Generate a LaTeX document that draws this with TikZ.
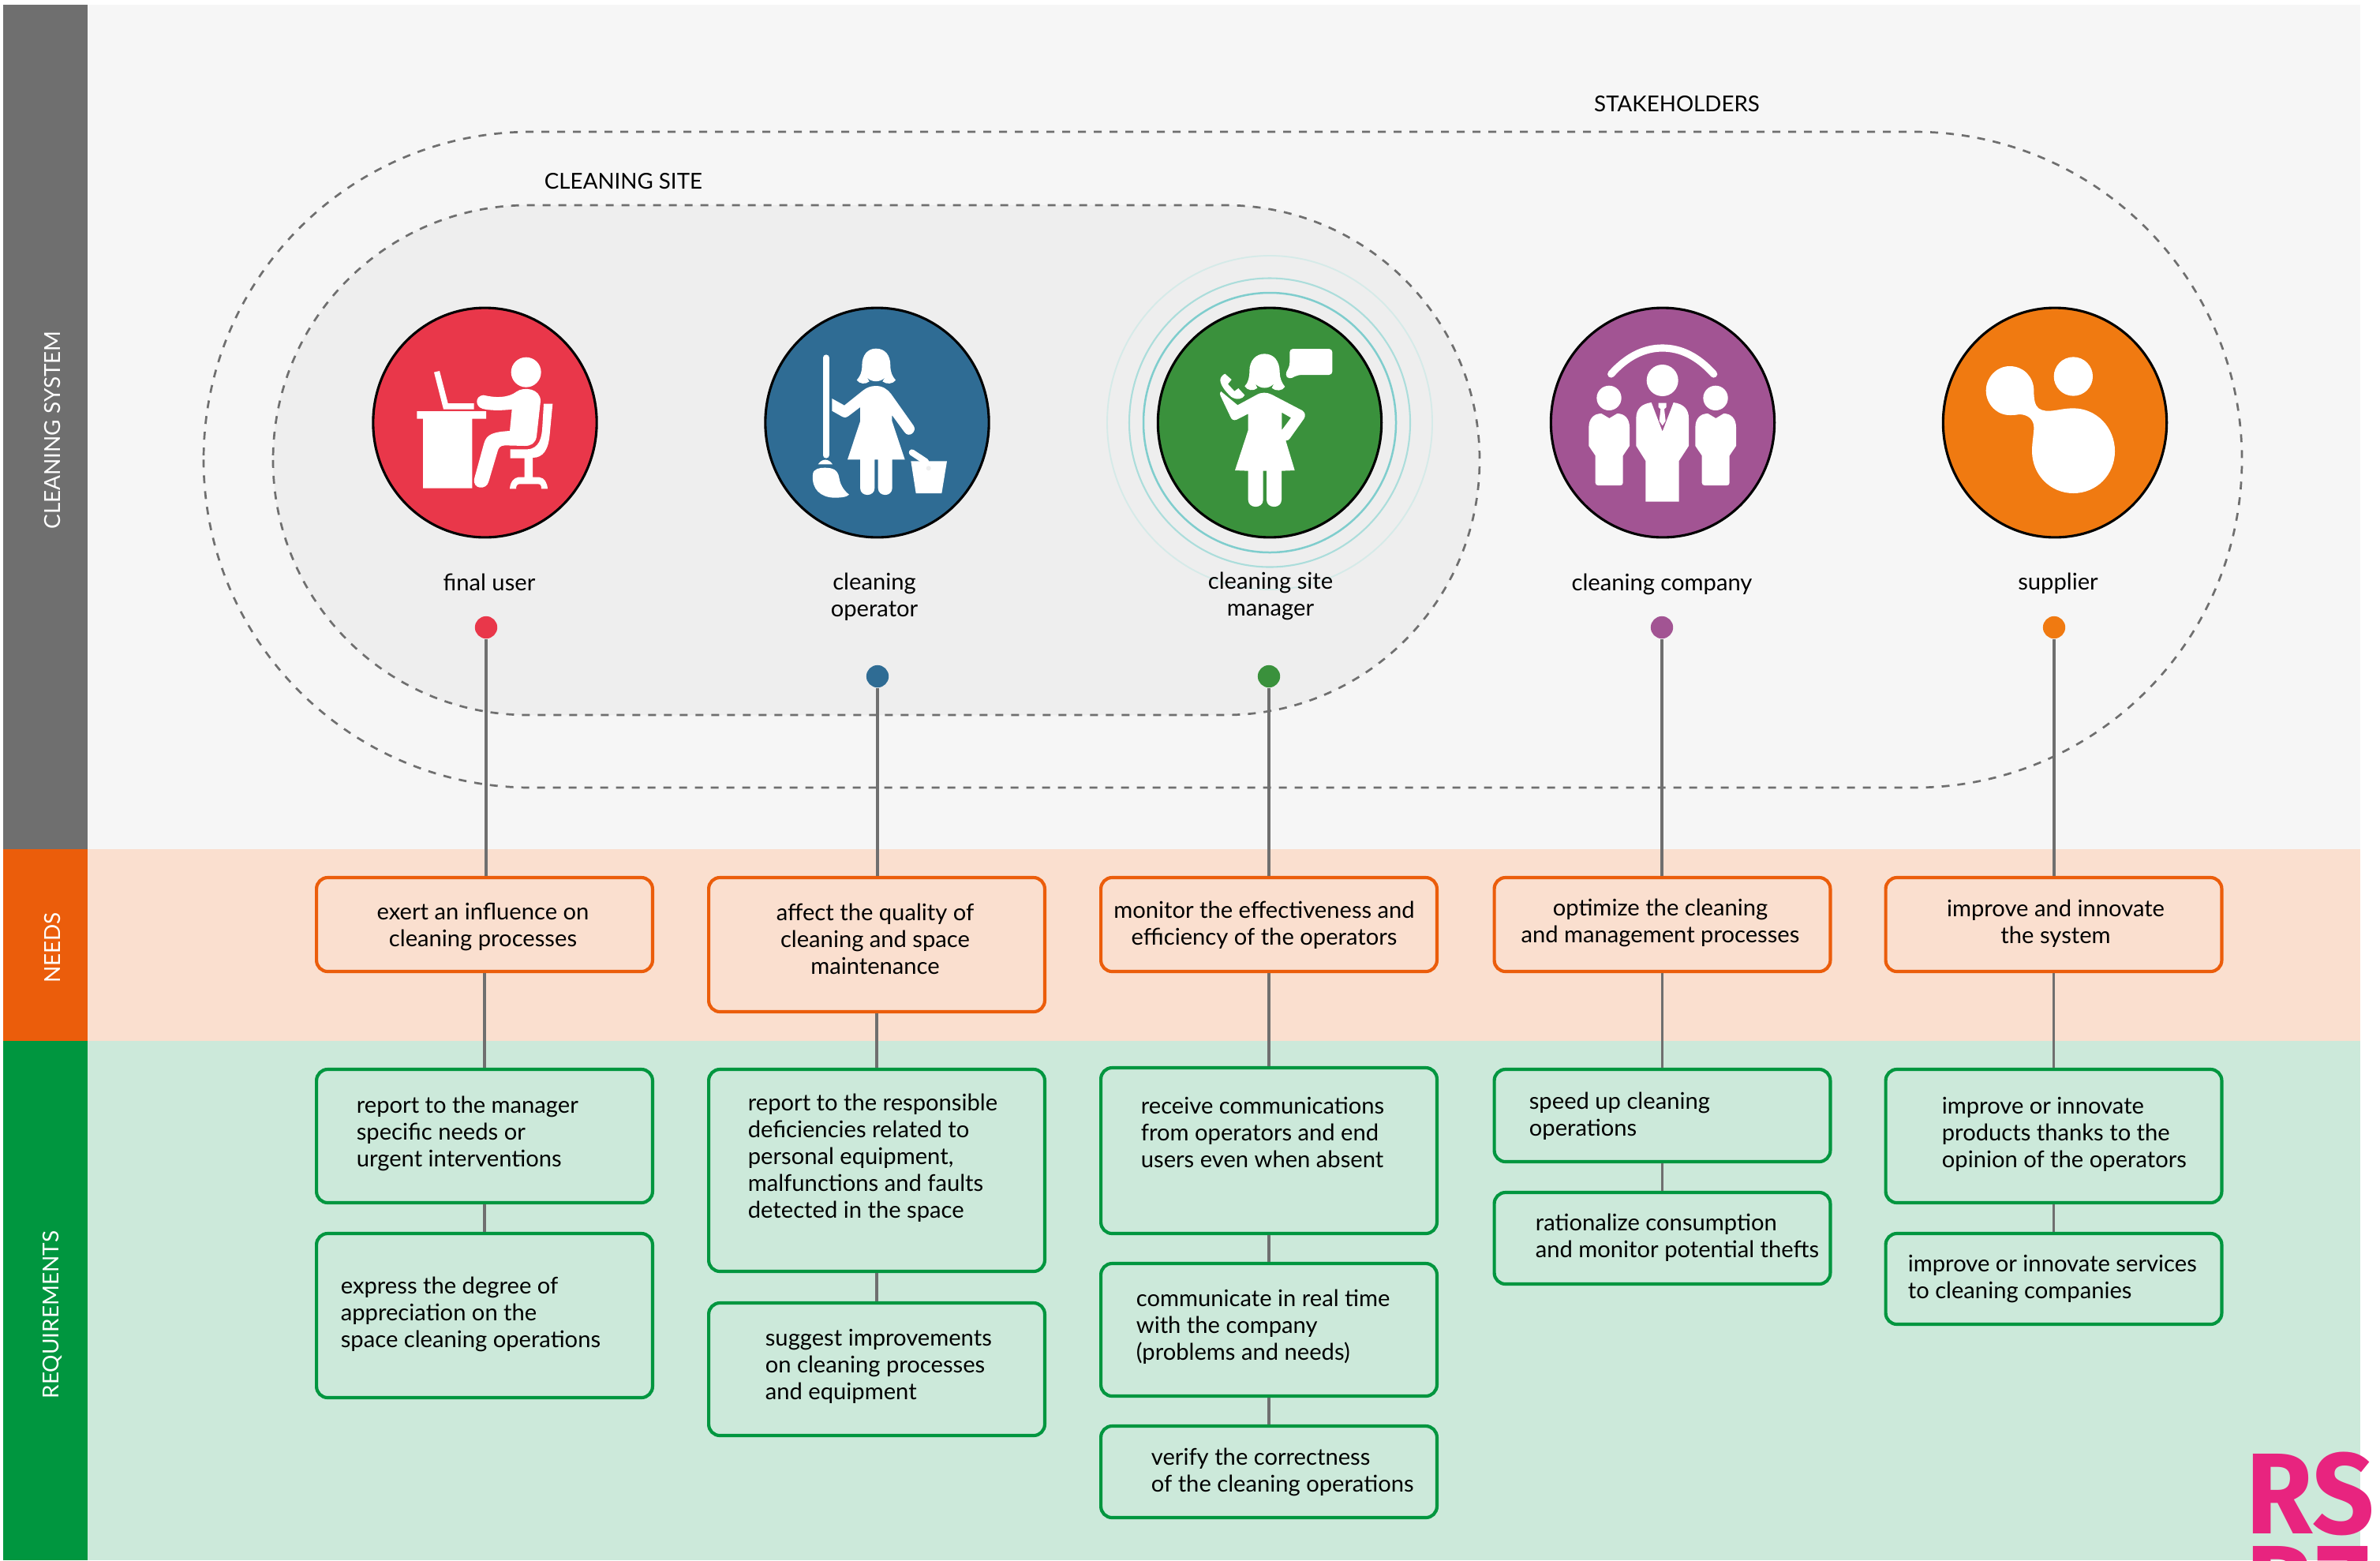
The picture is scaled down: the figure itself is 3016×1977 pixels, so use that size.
\documentclass[tikz,border=0pt]{standalone}
\usepackage{fontspec}
\setmainfont{Lato}
\newfontfamily\logofont{Fira Sans}
\usetikzlibrary{positioning, shapes.geometric}
\definecolor{barGrey}{HTML}{6F6F6F}
\definecolor{barOrange}{HTML}{EB5D0B}
\definecolor{barGreen}{HTML}{00963F}
\definecolor{panelGrey}{HTML}{F6F6F6}
\definecolor{panelOrange}{HTML}{FADFCF}
\definecolor{panelGreen}{HTML}{CCE9DA}
\definecolor{siteGrey}{HTML}{EEEEEE}
\definecolor{userRed}{HTML}{E9374A}
\definecolor{operBlue}{HTML}{2F6C94}
\definecolor{manGreen}{HTML}{3A913C}
\definecolor{compPurple}{HTML}{A25493}
\definecolor{suppOrange}{HTML}{F07A11}
\definecolor{logoPink}{HTML}{E8247F}
\definecolor{ringA}{HTML}{7FCDCD}
\definecolor{ringB}{HTML}{ABDDDB}
\definecolor{ringC}{HTML}{D5EAE8}
\tikzset{x=0.24pt, y=-0.24pt,
         every node/.style={font=\fontsize{7}{8.16}\selectfont, inner sep=0pt},
         barlabel/.style={rotate=90, text=white, font=\fontsize{6.7}{8}\selectfont},
         grouplabel/.style={font=\fontsize{6.65}{8.16}\selectfont},
         dashline/.style={draw=barGrey, line width=0.65pt, dash pattern=on 2.4pt off 2.4pt},
         person/.style={draw=black, line width=0.75pt, ellipse, minimum width=68pt, minimum height=69.8pt},
         who/.style={align=center, yshift=-0.45pt},
         dotmark/.style={circle, minimum size=6.8pt},
         wire/.style={draw=barGrey, line width=0.75pt},
         boxh/.style={minimum height=(#1+2)*0.24pt},
         needbox/.style={draw=barOrange, fill=panelOrange, line width=1pt, rounded corners=3.4pt, minimum width=102.2pt},
         reqbox/.style={draw=barGreen, fill=panelGreen, line width=1pt, rounded corners=3.4pt, minimum width=102.2pt},
         needtext/.style={align=center, yshift=-0.45pt},
         reqtext/.style={align=left, anchor=west, yshift=-0.45pt},
         icon/.style={shift={(#1)}, x=0.08pt, y=-0.08pt}}
\begin{document}
\begin{tikzpicture}
\useasboundingbox (0,0) rectangle (3016,1977);
% panels
\fill[panelGrey] (111,6) rectangle (2991,1076);
\fill[panelOrange] (111,1076) rectangle (2991,1319);
\fill[panelGreen] (111,1319) rectangle (2991,1977);
\fill[barGrey] (4,6) rectangle (111,1076);
\fill[barOrange] (4,1076) rectangle (111,1319);
\fill[barGreen] (4,1319) rectangle (111,1977);
\node[barlabel] (sideSystem) at (66,545) {CLEANING SYSTEM};
\node[barlabel] (sideNeeds) at (66,1201) {NEEDS};
\node[barlabel] (sideReq) at (66,1666) {REQUIREMENTS};
% groups
\draw[dashline, rounded corners=99.7pt] (258,167) rectangle (2841,998);
\draw[dashline, fill=siteGrey, rounded corners=77.5pt] (346,260) rectangle (1875,906);
\node[grouplabel] (stake) at (2125,132) {STAKEHOLDERS};
\node[grouplabel] (site) at (790,230) {CLEANING SITE};
% rings of the manager
\draw[color=ringC, line width=0.45pt] (1609,535.5) ellipse [x radius=206, y radius=211.5];
\draw[color=ringB, line width=0.5pt] (1609,535.5) ellipse [x radius=178, y radius=183];
\draw[color=ringA, line width=0.6pt] (1609,535.5) ellipse [x radius=160, y radius=164.5];
% people
\node[person, fill=userRed] (user) at (614.5,535.5) {};
\node[person, fill=operBlue] (oper) at (1111.5,535.5) {};
\node[person, fill=manGreen] (man) at (1609,535.5) {};
\node[person, fill=compPurple] (comp) at (2107,535.5) {};
\node[person, fill=suppOrange] (supp) at (2604,535.5) {};
% user icon
\begin{scope}[icon={500,430}, white]
\fill (500,125) circle [radius=57];
\fill (338,212) .. controls (380,222) and (430,225) .. (465,198) .. controls (490,180) and (555,185) .. (555,235) -- (540,370) .. controls (535,395) and (520,405) .. (495,405) -- (420,403) .. controls (400,403) and (395,415) .. (392,425) -- (358,540) .. controls (350,575) and (295,570) .. (303,530) -- (340,395) .. controls (350,360) and (375,352) .. (438,348) -- (446,266) .. controls (400,272) and (360,270) .. (335,264) .. controls (305,255) and (305,215) .. (338,212) -- cycle;
\fill (567,245) -- (601,245) -- (590,360) .. controls (585,420) and (565,450) .. (525,450) -- (525,524) -- (550,524) .. controls (570,526) and (580,545) .. (582,568) -- (558,568) .. controls (558,555) and (555,550) .. (545,550) -- (475,550) .. controls (465,550) and (462,558) .. (462,568) -- (438,568) .. controls (440,540) and (455,526) .. (470,524) -- (494,524) -- (494,452) -- (440,452) -- (440,418) -- (505,418) .. controls (550,415) and (560,375) .. (562,330) -- cycle;
\fill (150,125) -- (171,120) -- (203,243) -- (302,243) -- (302,266) -- (186,266) -- cycle;
\fill (85,273) -- (348,273) -- (348,302) -- (295,302) -- (295,566) -- (108,566) -- (108,302) -- (85,302) -- cycle;
\end{scope}
% operator icon
\begin{scope}[icon={1010,430}, white]
\fill (247,100) .. controls (247,60) and (268,35) .. (300,35) .. controls (335,35) and (355,60) .. (355,100) .. controls (355,125) and (362,140) .. (375,155) .. controls (365,170) and (340,172) .. (325,160) -- (335,143) .. controls (320,165) and (280,165) .. (265,143) -- (275,160) .. controls (260,172) and (238,170) .. (227,155) .. controls (240,140) and (247,125) .. (247,100) -- cycle;
\fill (300,177) .. controls (325,177) and (345,190) .. (358,208) -- (443,328) .. controls (458,350) and (425,378) .. (408,352) -- (361,288) -- (361,310) -- (410,457) -- (362,457) -- (362,565) .. controls (362,600) and (308,600) .. (308,565) -- (308,457) -- (295,457) -- (295,565) .. controls (295,600) and (240,600) .. (240,565) -- (240,457) -- (192,457) -- (240,312) -- (240,258) -- (195,292) .. controls (185,300) and (175,297) .. (165,290) -- (133,272) -- (133,225) -- (180,251) -- (250,195) .. controls (265,183) and (280,177) .. (300,177) -- cycle;
\draw[white, line width=1.9pt, line cap=round] (110,70) -- (110,440);
\fill (80,475) .. controls (95,452) and (120,452) .. (135,475) -- cycle;
\fill (60,515) .. controls (60,490) and (90,488) .. (105,488) .. controls (135,488) and (155,495) .. (160,525) .. controls (165,560) and (185,580) .. (198,590) .. controls (190,600) and (165,602) .. (140,602) .. controls (90,600) and (55,570) .. (60,515) -- cycle;
\fill (433,463) -- (570,463) -- (550,585) -- (452,585) -- cycle;
\draw[white, line width=1.9pt, line cap=round] (437,430) -- (490,465);
\fill[siteGrey] (500,490) circle [radius=9];
\end{scope}
% manager icon
\begin{scope}[icon={1520,430}, white]
\fill (190,120) .. controls (190,80) and (215,55) .. (247,55) .. controls (285,55) and (305,85) .. (305,125) .. controls (305,145) and (312,165) .. (325,180) .. controls (315,197) and (290,198) .. (275,185) -- (283,168) .. controls (265,190) and (230,190) .. (212,168) -- (220,185) .. controls (205,198) and (182,195) .. (172,178) .. controls (185,165) and (190,145) .. (190,120) -- cycle;
\fill[rounded corners=1pt] (343,36) -- (505,36) -- (505,135) -- (375,135) -- (340,152) -- (325,135) -- (343,100) -- cycle;
\fill (97,131) -- (122,153) -- (108,170) -- (133,197) -- (148,186) -- (172,212) .. controls (165,228) and (140,232) .. (120,218) .. controls (100,200) and (80,175) .. (79,155) .. controls (79,145) and (87,135) .. (97,131) -- cycle;
\fill[even odd rule] (82,198) -- (145,250) -- (215,212) .. controls (235,200) and (255,200) .. (275,210) -- (390,270) .. controls (402,278) and (405,290) .. (397,302) -- (345,375) .. controls (340,382) and (335,385) .. (328,385) -- (362,498) -- (312,500) -- (312,610) .. controls (312,645) and (255,645) .. (255,610) -- (255,500) -- (242,500) -- (242,610) .. controls (242,645) and (185,645) .. (185,610) -- (185,500) -- (135,498) -- (185,345) -- (185,283) -- (142,305) .. controls (130,310) and (122,305) .. (118,295) -- (80,215) .. controls (77,205) and (78,200) .. (82,198) -- cycle
  (313,278) -- (348,298) -- (313,345) -- cycle;
\end{scope}
% company icon
\begin{scope}[icon={2000,420}, white]
\draw[white, line width=2.2pt, line cap=round] (125,162) .. controls (185,95) and (250,63) .. (320,63) .. controls (390,63) and (455,95) .. (515,162);
\fill (320,186) circle [radius=60];
\fill (117,253) circle [radius=47];
\fill (522,253) circle [radius=47];
\fill (278,270) .. controls (240,275) and (220,295) .. (220,330) -- (220,435) -- (256,492) -- (256,647) -- (383,647) -- (383,492) -- (420,435) -- (420,330) .. controls (420,295) and (400,275) .. (362,270) -- (320,380) -- cycle;
\fill (305,272) -- (335,272) -- (335,288) -- (327,295) -- (332,340) -- (320,358) -- (308,340) -- (313,295) -- (305,288) -- cycle;
\foreach \shx in {0,405} {
  \fill[xshift=\shx*0.08pt] (88,312) -- (118,330) -- (148,312) .. controls (175,312) and (195,330) .. (195,365) -- (195,435) -- (170,472) -- (170,575) .. controls (170,582) and (165,585) .. (160,585) -- (75,585) .. controls (70,585) and (65,582) .. (65,575) -- (65,472) -- (40,435) -- (40,365) .. controls (40,330) and (60,312) .. (88,312) -- cycle;
}
\end{scope}
% supplier icon
\begin{scope}[icon={2500,430}, white]
\fill (382,141) circle [radius=74];
\fill (140,102) .. controls (195,102) and (232,145) .. (232,195) .. controls (232,225) and (235,250) .. (250,262) .. controls (285,285) and (325,262) .. (382,262) .. controls (470,262) and (540,335) .. (540,425) .. controls (540,515) and (470,585) .. (382,585) .. controls (295,585) and (225,515) .. (225,425) .. controls (225,390) and (232,360) .. (232,335) .. controls (232,305) and (210,285) .. (175,285) .. controls (165,288) and (150,288) .. (140,288) .. controls (90,288) and (50,245) .. (50,195) .. controls (50,145) and (90,102) .. (140,102) -- cycle;
\end{scope}
% names
\node[who] (lUser) at (620,736) {final user};
\node[who] (lOper) at (1108,754) {cleaning\\operator};
\node[who] (lMan) at (1610,754) {cleaning site\\manager};
\node[who] (lComp) at (2106,739) {cleaning company};
\node[who] (lSupp) at (2608,737) {supplier};
% dots
\node[dotmark, fill=userRed] (d1) at (616,795) {};
\node[dotmark, fill=operBlue] (d2) at (1112,857) {};
\node[dotmark, fill=manGreen] (d3) at (1608,857) {};
\node[dotmark, fill=compPurple] (d4) at (2106,795) {};
\node[dotmark, fill=suppOrange] (d5) at (2603,795) {};
% needs
\node[needbox, boxh=117] (n1) at (614,1171.5) {};
\node[needbox, boxh=168] (n2) at (1111,1197) {};
\node[needbox, boxh=117] (n3) at (1608,1171.5) {};
\node[needbox, boxh=117] (n4) at (2106.5,1171.5) {};
\node[needbox, boxh=117] (n5) at (2602.5,1171.5) {};
\node[needtext] (t1) at (612,1173) {exert an influence on\\cleaning processes};
\node[needtext] (t2) at (1109,1188) {affect the quality of\\cleaning and space\\maintenance};
\node[needtext] (t3) at (1602,1170) {monitor the effectiveness and\\efficiency of the operators};
\node[needtext] (t4) at (2104,1168) {optimize the cleaning\\and management processes};
\node[needtext] (t5) at (2605,1168) {improve and innovate\\the system};
% requirements
\node[reqbox, boxh=167] (r1a) at (614,1439.5) {};
\node[reqbox, boxh=206] (r1b) at (614,1667) {};
\node[reqbox, boxh=254] (r2a) at (1111,1483) {};
\node[reqbox, boxh=166] (r2b) at (1111,1735) {};
\node[reqbox, boxh=208] (r3a) at (1608,1458) {};
\node[reqbox, boxh=166] (r3b) at (1608,1685) {};
\node[reqbox, boxh=114] (r3c) at (1608,1865) {};
\node[reqbox, boxh=115] (r4a) at (2106.5,1413.5) {};
\node[reqbox, boxh=114] (r4b) at (2106.5,1569) {};
\node[reqbox, boxh=167] (r5a) at (2602.5,1439.5) {};
\node[reqbox, boxh=113] (r5b) at (2602.5,1620.5) {};
\node[reqtext] (q1a) at (451,1435) {report to the manager\\specific needs or\\urgent interventions};
\node[reqtext] (q1b) at (431,1664) {express the degree of\\appreciation on the\\space cleaning operations};
\node[reqtext] (q2a) at (947,1465) {report to the responsible\\deficiencies related to\\personal equipment,\\malfunctions and faults\\detected in the space};
\node[reqtext] (q2b) at (969,1729) {suggest improvements\\on cleaning processes\\and equipment};
\node[reqtext] (q3a) at (1445,1433) {receive communications\\from operators and end\\users even when absent};
\node[reqtext] (q3b) at (1439,1679) {communicate in real time\\with the company\\(problems and needs)};
\node[reqtext] (q3c) at (1458,1864) {verify the correctness\\of the cleaning operations};
\node[reqtext] (q4a) at (1937,1412) {speed up cleaning\\operations};
\node[reqtext] (q4b) at (1945,1566) {rationalize consumption\\and monitor potential thefts};
\node[reqtext] (q5a) at (2460,1435) {improve or innovate\\products thanks to the\\opinion of the operators};
\node[reqtext] (q5b) at (2417,1619) {improve or innovate services\\to cleaning companies};
% connectors
\draw[wire] (d1) -- (d1 |- n1.north);
\draw[wire] (d2) -- (d2 |- n2.north);
\draw[wire] (d3) -- (d3 |- n3.north);
\draw[wire] (d4) -- (d4 |- n4.north);
\draw[wire] (d5) -- (d5 |- n5.north);
\foreach \top/\bot in {n1/r1a, r1a/r1b, n2/r2a, r2a/r2b, n3/r3a, r3a/r3b, r3b/r3c, n4/r4a, r4a/r4b, n5/r5a, r5a/r5b}
  \draw[wire] (\top.south) -- (\bot.north);
% logo
\node[text=logoPink, font=\logofont\bfseries\fontsize{35}{28.2}\selectfont, align=left, anchor=north west, xscale=0.94] (logo) at (2846,1839) {RS\\RZ};
\end{tikzpicture}
\end{document}
